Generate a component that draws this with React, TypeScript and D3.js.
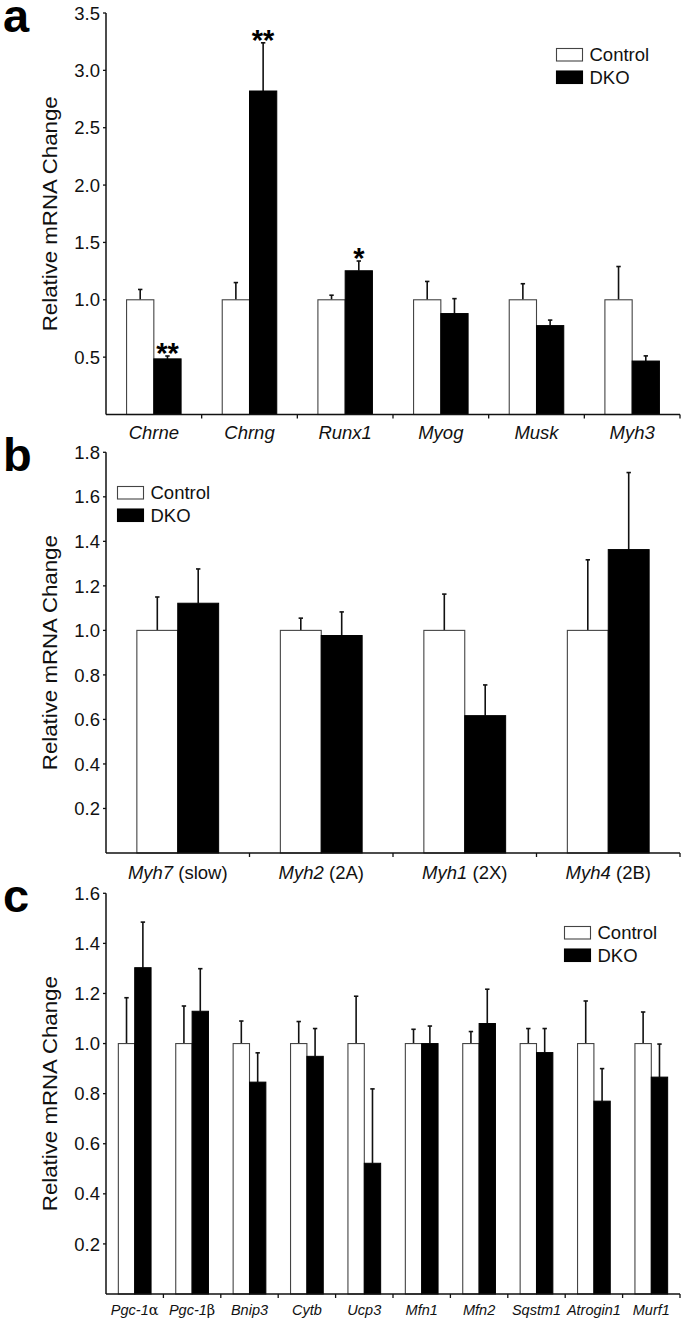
import React from "react";
import * as d3 from "d3";

// ---------- DATA ----------
const seriesNames = ["Control", "DKO"];

const aGenes = ["Chrne", "Chrng", "Runx1", "Myog", "Musk", "Myh3"];
const aSuffix = ["", "", "", "", "", ""];
const aControl = [1, 1, 1, 1, 1, 1];
const aControlErr = [0.09, 0.15, 0.04, 0.16, 0.14, 0.29];
const aDko = [0.485, 2.82, 1.253, 0.88, 0.775, 0.466];
const aDkoErr = [0.025, 0.42, 0.085, 0.13, 0.048, 0.045];
const aStars = ["**", "**", "*", "", "", ""];
const aTicks = [0.5, 1.0, 1.5, 2.0, 2.5, 3.0, 3.5];

const bGenes = ["Myh7", "Myh2", "Myh1", "Myh4"];
const bSuffix = [" (slow)", " (2A)", " (2X)", " (2B)"];
const bControl = [1, 1, 1, 1];
const bControlErr = [0.15, 0.055, 0.163, 0.317];
const bDko = [1.122, 0.977, 0.617, 1.363];
const bDkoErr = [0.154, 0.106, 0.138, 0.346];
const bStars = ["", "", "", ""];
const bTicks = [0.2, 0.4, 0.6, 0.8, 1.0, 1.2, 1.4, 1.6, 1.8];

const cGenes = ["Pgc-1", "Pgc-1", "Bnip3", "Cytb", "Ucp3", "Mfn1", "Mfn2", "Sqstm1", "Atrogin1", "Murf1"];
const cSuffix = ["α", "β", "", "", "", "", "", "", "", ""];
const cControl = [1, 1, 1, 1, 1, 1, 1, 1, 1, 1];
const cControlErr = [0.183, 0.15, 0.09, 0.088, 0.189, 0.057, 0.048, 0.06, 0.17, 0.126];
const cDko = [1.303, 1.129, 0.846, 0.949, 0.522, 1.0, 1.08, 0.964, 0.77, 0.866];
const cDkoErr = [0.182, 0.17, 0.117, 0.111, 0.297, 0.07, 0.137, 0.096, 0.13, 0.132];
const cStars = ["", "", "", "", "", "", "", "", "", ""];
const cTicks = [0.2, 0.4, 0.6, 0.8, 1.0, 1.2, 1.4, 1.6];

const FONT = "'Liberation Sans', Arial, Helvetica, sans-serif";
const GREEK_FONT = "'DejaVu Serif', 'Liberation Serif', serif";

type PanelProps = {
  letter: string;
  genes: string[];
  suffix: string[];
  suffixGreek: boolean;
  ctrl: number[];
  ctrlErr: number[];
  dko: number[];
  dkoErr: number[];
  stars: string[];
  ticks: number[];
  yMax: number;
  yBottom: number;
  yTop: number;
  legendX: number;
  legendY: number;
  catFont: number;
  catY: number;
};

function Panel(p: PanelProps) {
  const x0 = 106;
  const x1 = 680;
  const y = d3.scaleLinear().domain([0, p.yMax]).range([p.yBottom, p.yTop]);
  const keys = p.genes.map((g, i) => g + "_" + i);
  const band = d3.scaleBand<string>().domain(keys).range([x0, x1]).paddingInner(0).paddingOuter(0);
  const bw = band.bandwidth() * 0.285;
  const fmt = d3.format(".1f");
  const cap = 2.2;
  const titleCy = (p.yBottom + p.yTop) / 2;

  return (
    <g>
      <text x={3} y={p.yTop + 18.5} fontFamily={FONT} fontWeight="bold" fontSize={47} fill="#000">
        {p.letter}
      </text>
      {/* y axis title */}
      <text
        transform={`translate(56.5,${titleCy}) rotate(-90)`}
        textAnchor="middle"
        fontFamily={FONT}
        fontSize={19.5}
        textLength={235}
        lengthAdjust="spacingAndGlyphs"
        fill="#111"
      >
        Relative mRNA Change
      </text>
      {/* bars */}
      {keys.map((k, i) => {
        const cx = (band(k) as number) + band.bandwidth() / 2;
        const cTop = y(p.ctrl[i]);
        const dTop = y(p.dko[i]);
        const cE = y(p.ctrl[i] + p.ctrlErr[i]);
        const dE = y(p.dko[i] + p.dkoErr[i]);
        const cxm = cx - bw / 2;
        const dxm = cx + bw / 2;
        return (
          <g key={k}>
            <line x1={cxm} x2={cxm} y1={cTop} y2={cE} stroke="#111" strokeWidth={1.6} />
            <line x1={cxm - cap} x2={cxm + cap} y1={cE} y2={cE} stroke="#111" strokeWidth={1.6} />
            <line x1={dxm} x2={dxm} y1={dTop} y2={dE} stroke="#111" strokeWidth={1.6} />
            <line x1={dxm - cap} x2={dxm + cap} y1={dE} y2={dE} stroke="#111" strokeWidth={1.6} />
            <rect x={cx - bw} y={cTop} width={bw} height={p.yBottom - cTop} fill="#fff" stroke="#444" strokeWidth={1.1} />
            <rect x={cx} y={dTop} width={bw} height={p.yBottom - dTop} fill="#000" stroke="#000" strokeWidth={1} />
            {p.stars[i] ? (
              <text x={dxm} y={dE + 7} textAnchor="middle" fontFamily={FONT} fontWeight="bold" fontSize={29} fill="#000">
                {p.stars[i]}
              </text>
            ) : null}
            <text x={cx} y={p.catY} textAnchor="middle" fontFamily={FONT} fontSize={p.catFont} fill="#111">
              <tspan fontStyle="italic">{p.genes[i]}</tspan>
              {p.suffix[i] ? (
                <tspan fontStyle="normal" fontFamily={p.suffixGreek ? GREEK_FONT : FONT}>
                  {p.suffix[i]}
                </tspan>
              ) : null}
            </text>
            {/* x tick at right boundary */}
            <line
              x1={(band(k) as number) + band.bandwidth()}
              x2={(band(k) as number) + band.bandwidth()}
              y1={p.yBottom}
              y2={p.yBottom + 4}
              stroke="#111"
              strokeWidth={1.3}
            />
          </g>
        );
      })}
      {/* axes */}
      <line x1={x0} x2={x0} y1={y(p.yMax)} y2={p.yBottom} stroke="#111" strokeWidth={1.5} />
      <line x1={x0} x2={x1} y1={p.yBottom} y2={p.yBottom} stroke="#111" strokeWidth={1.5} />
      {p.ticks.map((t) => (
        <g key={t}>
          <line x1={x0 - 3} x2={x0} y1={y(t)} y2={y(t)} stroke="#111" strokeWidth={1.3} />
          <text x={100} y={y(t)} dy="0.36em" textAnchor="end" fontFamily={FONT} fontSize={18.5} fill="#111">
            {fmt(t)}
          </text>
        </g>
      ))}
      {/* legend */}
      {seriesNames.map((s, i) => (
        <g key={s} transform={`translate(${p.legendX},${p.legendY + i * 22.5})`}>
          <rect x={0} y={0} width={26} height={12.5} fill={i === 0 ? "#fff" : "#000"} stroke={i === 0 ? "#444" : "#000"} strokeWidth={1.1} />
          <text x={33} y={12.5} fontFamily={FONT} fontSize={18.5} fill="#111">
            {s}
          </text>
        </g>
      ))}
    </g>
  );
}

export default function App() {
  return (
    <svg
      width={685}
      height={1321}
      viewBox="0 0 685 1321"
      style={{ position: "absolute", left: 0, top: 0, background: "#fff", display: "block" }}
    >
      <rect x={0} y={0} width={685} height={1321} fill="#fff" />
      <Panel
        letter="a"
        genes={aGenes}
        suffix={aSuffix}
        suffixGreek={false}
        ctrl={aControl}
        ctrlErr={aControlErr}
        dko={aDko}
        dkoErr={aDkoErr}
        stars={aStars}
        ticks={aTicks}
        yMax={3.5}
        yBottom={414.5}
        yTop={13}
        legendX={556.5}
        legendY={48.5}
        catFont={18.5}
        catY={438.5}
      />
      <Panel
        letter="b"
        genes={bGenes}
        suffix={bSuffix}
        suffixGreek={false}
        ctrl={bControl}
        ctrlErr={bControlErr}
        dko={bDko}
        dkoErr={bDkoErr}
        stars={bStars}
        ticks={bTicks}
        yMax={1.8}
        yBottom={853}
        yTop={452.3}
        legendX={117.5}
        legendY={486.5}
        catFont={18.5}
        catY={878.5}
      />
      <Panel
        letter="c"
        genes={cGenes}
        suffix={cSuffix}
        suffixGreek={true}
        ctrl={cControl}
        ctrlErr={cControlErr}
        dko={cDko}
        dkoErr={cDkoErr}
        stars={cStars}
        ticks={cTicks}
        yMax={1.6}
        yBottom={1294}
        yTop={893.3}
        legendX={564.5}
        legendY={926.5}
        catFont={14.5}
        catY={1315}
      />
    </svg>
  );
}
